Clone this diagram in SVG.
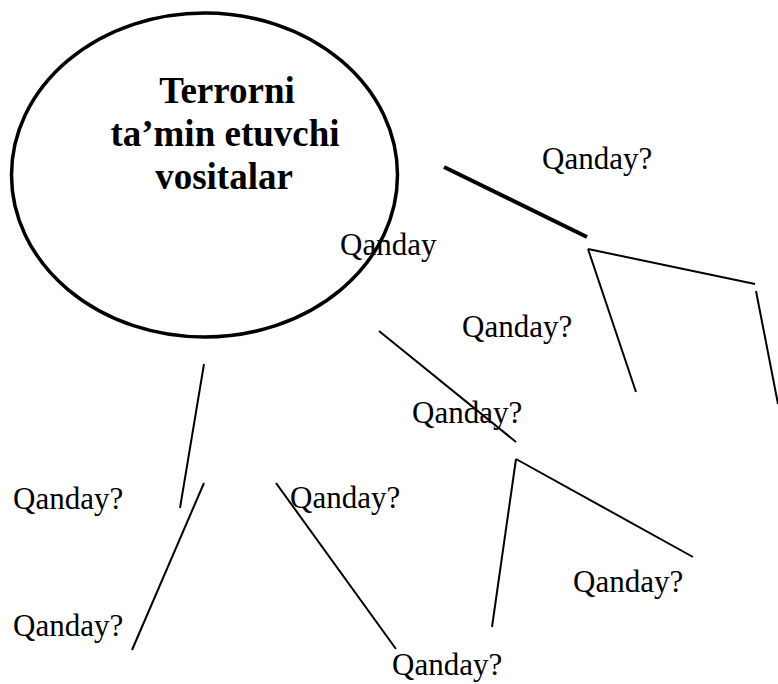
<svg xmlns="http://www.w3.org/2000/svg" width="778" height="684" viewBox="0 0 778 684">
<style>
.bg{fill:#fff}
.ln{stroke:#000;stroke-width:2;fill:none;stroke-linecap:butt}
.thick{stroke-width:4}
.title{font-family:"Liberation Serif","Times New Roman",serif;font-weight:bold;font-size:37px;fill:#000;text-anchor:middle}
.lbl{font-family:"Liberation Serif","Times New Roman",serif;font-size:31px;fill:#000}
</style>
<rect class="bg" x="0" y="0" width="778" height="684"/>
<g id="main-node">
<ellipse cx="204.5" cy="175" rx="193" ry="162" fill="none" stroke="#000" stroke-width="3.5"/>
<text class="title" x="227" y="103">Terrorni</text>
<text class="title" x="225" y="146">ta’min etuvchi</text>
<text class="title" x="224" y="189">vositalar</text>
</g>
<g id="connectors">
<line class="ln thick" x1="444" y1="167" x2="587" y2="237"/>
<line class="ln" x1="588" y1="249" x2="755" y2="284"/>
<line class="ln" x1="588" y1="249" x2="636" y2="392"/>
<line class="ln" x1="756" y1="291" x2="778" y2="404"/>
<line class="ln" x1="379" y1="331" x2="516" y2="442"/>
<line class="ln" x1="516" y1="459" x2="693" y2="557"/>
<line class="ln" x1="516" y1="459" x2="492" y2="627"/>
<line class="ln" x1="204" y1="364" x2="180" y2="508"/>
<line class="ln" x1="204" y1="483" x2="132" y2="650"/>
<line class="ln" x1="276" y1="483" x2="396" y2="649"/>
</g>
<g id="label-1"><text class="lbl" x="542" y="169">Qanday?</text></g>
<g id="label-2"><text class="lbl" x="340" y="255">Qanday</text></g>
<g id="label-3"><text class="lbl" x="462" y="337">Qanday?</text></g>
<g id="label-4"><text class="lbl" x="412" y="423">Qanday?</text></g>
<g id="label-5"><text class="lbl" x="13" y="509">Qanday?</text></g>
<g id="label-6"><text class="lbl" x="290" y="508">Qanday?</text></g>
<g id="label-7"><text class="lbl" x="573" y="592">Qanday?</text></g>
<g id="label-8"><text class="lbl" x="13" y="636">Qanday?</text></g>
<g id="label-9"><text class="lbl" x="392" y="675">Qanday?</text></g>
</svg>
